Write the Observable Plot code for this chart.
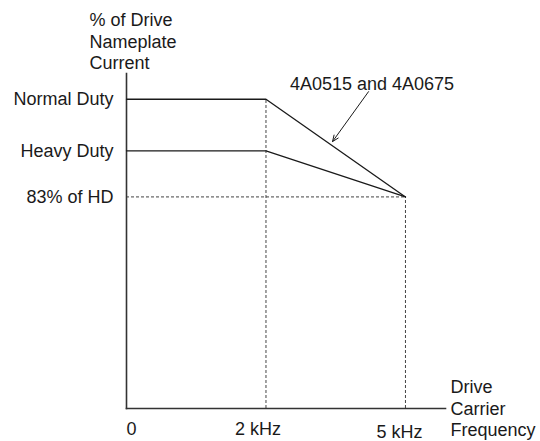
<!DOCTYPE html>
<html>
<head>
<meta charset="utf-8">
<script src="https://cdn.jsdelivr.net/npm/d3@7"></script>
<script src="https://cdn.jsdelivr.net/npm/@observablehq/plot@0.6"></script>
<style>
  html, body { margin: 0; padding: 0; background: #ffffff; }
  #chart { width: 540px; height: 441px; }
</style>
</head>
<body>
<div id="chart"></div>
<script>
// ---- data (schematic derating curve) ----
const xTickValues = [0, 1, 2];
const xTickLabels = ["0", "2 kHz", "5 kHz"];
const yTickValues = [119, 100, 83];
const yTickLabels = ["Normal Duty", "Heavy Duty", "83% of HD"];
const curveX = [0, 1, 2];
const normalDutyY = [119, 119, 83];
const heavyDutyY = [100, 100, 83];
const yAxisTitle = "% of Drive\nNameplate\nCurrent";
const xAxisTitle = "Drive\nCarrier\nFrequency";
const annotationLabel = "4A0515 and 4A0675";
const annotationAt = [1.76, 124.4];
const arrowFrom = [1.735, 121.8];
const arrowTo = [1.477, 103.4];
const xDomain = [0, 2.287];
const yDomain = [5, 128.5];

const FONT = "'Liberation Sans', Arial, Helvetica, sans-serif";
const INK = "#1a1a1a";

const ndData = curveX.map((x, i) => ({x, y: normalDutyY[i]}));
const hdData = curveX.map((x, i) => ({x, y: heavyDutyY[i]}));
const yLabel = d => yTickLabels[yTickValues.indexOf(d)];
const xLabel = d => xTickLabels[xTickValues.indexOf(d)];
const dash = {stroke: "#444", strokeWidth: 1, strokeDasharray: "3,2"};

const chart = Plot.plot({
  width: 540,
  height: 441,
  marginLeft: 126,
  marginRight: 95,
  marginTop: 73,
  marginBottom: 33,
  x: {domain: xDomain},
  y: {domain: yDomain},
  style: {fontFamily: FONT, fontSize: "18px", color: INK, background: "#ffffff", overflow: "visible"},
  marks: [
    // dashed reference lines
    Plot.ruleX([xTickValues[1]], {y1: yDomain[0], y2: normalDutyY[1], ...dash}),
    Plot.ruleX([xTickValues[2]], {y1: yDomain[0], y2: yTickValues[2], ...dash}),
    Plot.ruleY([yTickValues[2]], {x1: xTickValues[0], x2: xTickValues[2], ...dash}),
    // axis lines
    Plot.frame({anchor: "left", stroke: "#333", strokeWidth: 1.6}),
    Plot.frame({anchor: "bottom", stroke: "#333", strokeWidth: 1.6}),
    // curves
    Plot.line(ndData, {x: "x", y: "y", stroke: INK, strokeWidth: 1.3}),
    Plot.line(hdData, {x: "x", y: "y", stroke: INK, strokeWidth: 1.3}),
    // y tick labels
    Plot.axisY(yTickValues, {tickSize: 0, tickPadding: 13, tickFormat: yLabel, fontSize: 18, fill: INK, label: null}),
    // x tick labels
    Plot.axisX([xTickValues[0]], {tickSize: 0, tickPadding: 14, textAnchor: "start", tickFormat: xLabel, fontSize: 18, fill: INK, label: null}),
    Plot.axisX([xTickValues[1]], {tickSize: 0, tickPadding: 14, dx: -8, tickFormat: xLabel, fontSize: 18, fill: INK, label: null}),
    Plot.axisX([xTickValues[2]], {tickSize: 0, tickPadding: 14, dx: -6, dy: 3, tickFormat: xLabel, fontSize: 18, fill: INK, label: null}),
    // axis titles
    Plot.text([yAxisTitle], {frameAnchor: "top-left", text: d => d, textAnchor: "start", lineAnchor: "middle", lineHeight: 1.22, dx: -37, dy: -33, fontSize: 18, fill: INK}),
    Plot.text([xAxisTitle], {frameAnchor: "bottom-right", text: d => d, textAnchor: "start", lineAnchor: "middle", lineHeight: 1.22, dx: 5, dy: -1, fontSize: 18, fill: INK}),
    // annotation
    Plot.text([annotationLabel], {x: () => annotationAt[0], y: () => annotationAt[1], text: d => d, textAnchor: "middle", lineAnchor: "middle", fontSize: 18, fill: INK}),
    Plot.arrow([0], {x1: () => arrowFrom[0], y1: () => arrowFrom[1], x2: () => arrowTo[0], y2: () => arrowTo[1], stroke: INK, strokeWidth: 1, headLength: 10, headAngle: 45})
  ]
});

document.getElementById("chart").appendChild(chart);
</script>
</body>
</html>
